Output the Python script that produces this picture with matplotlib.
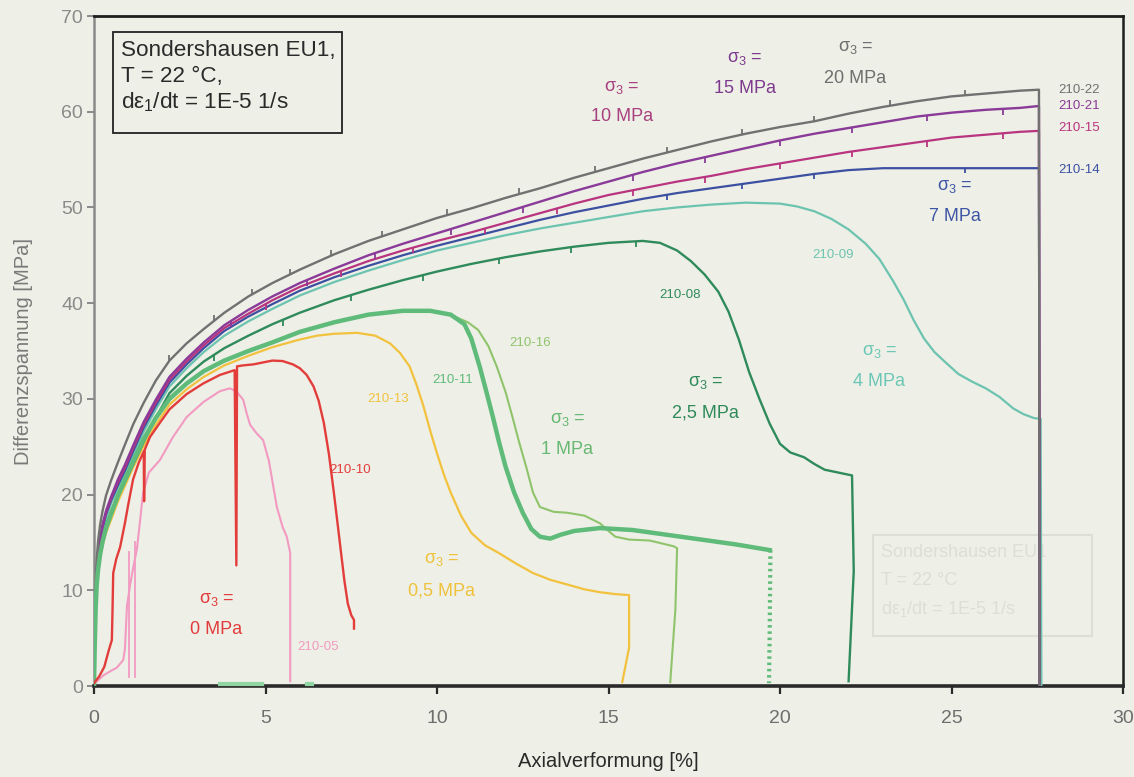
import matplotlib
matplotlib.use("Agg")
import numpy as np
import matplotlib.pyplot as plt
from matplotlib.patches import Rectangle

# ---------------------------------------------------------------- data
# axial strain [%] and deviatoric stress [MPa] of each triaxial test
eps_a = [0, 0.02, 0.05, 0.08, 0.12, 0.18, 0.25, 0.35, 0.5, 0.7, 0.9, 1.15, 1.45, 1.8, 2.2, 2.7,
         3.2, 3.8, 4.5, 5.2, 6.0, 7.0, 8.0, 9.0, 10, 11, 12, 13, 14, 15, 16, 17, 18, 19, 20, 21,
         22, 23, 24, 25, 26, 27, 27.55, 27.57]

t22_x = eps_a
t22_y = [0, 5, 10.5, 13.3, 15.2, 16.9, 18.3, 19.9, 21.5, 23.4, 25.2, 27.4, 29.6, 31.9, 34.0, 35.8,
         37.3, 39.0, 40.7, 42.1, 43.5, 45.1, 46.5, 47.7, 48.9, 49.9, 51.0, 52.0, 53.1, 54.1, 55.1,
         56.0, 56.9, 57.7, 58.4, 59.0, 59.8, 60.5, 61.1, 61.6, 61.9, 62.2, 62.3, 0]

t21_x = eps_a
t21_y = [0, 4.8, 9.8, 12.3, 14.0, 15.6, 16.9, 18.3, 19.8, 21.6, 23.1, 25.2, 27.6, 29.9, 32.3, 34.2,
         35.9, 37.7, 39.3, 40.7, 42.1, 43.6, 45.0, 46.2, 47.3, 48.4, 49.5, 50.6, 51.7, 52.7, 53.7,
         54.6, 55.4, 56.2, 57.0, 57.7, 58.3, 58.9, 59.5, 59.9, 60.2, 60.4, 60.6, 0]

t15_x = eps_a
t15_y = [0, 4.7, 9.6, 12.1, 13.8, 15.4, 16.7, 18.1, 19.6, 21.3, 22.8, 24.9, 27.3, 29.6, 32.0, 33.9,
         35.6, 37.4, 38.9, 40.3, 41.7, 43.1, 44.4, 45.5, 46.5, 47.4, 48.4, 49.4, 50.4, 51.3, 52.0,
         52.7, 53.3, 54.0, 54.6, 55.2, 55.8, 56.3, 56.8, 57.3, 57.6, 57.9, 58.0, 0]

t14_x = eps_a
t14_y = [0, 4.6, 9.4, 11.9, 13.6, 15.2, 16.5, 17.9, 19.4, 21.0, 22.5, 24.6, 27.0, 29.3, 31.7, 33.6,
         35.3, 37.1, 38.6, 39.9, 41.3, 42.7, 43.9, 45.0, 46.0, 46.9, 47.8, 48.7, 49.5, 50.2, 50.9,
         51.5, 52.0, 52.5, 53.0, 53.5, 53.9, 54.1, 54.1, 54.1, 54.1, 54.1, 54.1, 0]

t09_x = [0, 0.02, 0.05, 0.08, 0.12, 0.18, 0.25, 0.35, 0.5, 0.7, 0.9, 1.15, 1.45, 1.8, 2.2, 2.7,
         3.2, 3.8, 4.5, 5.2, 6.0, 7.0, 8.0, 9.0, 10, 11, 12, 13, 14, 15, 16, 17, 18, 19, 20, 20.5,
         21, 21.5, 22, 22.5, 22.9, 23.3, 23.6, 23.9, 24.2, 24.5, 24.8, 25.2, 25.6, 26.0, 26.4,
         26.8, 27.1, 27.4, 27.6, 27.62]
t09_y = [0, 4.4, 9.1, 11.6, 13.3, 14.9, 16.2, 17.6, 19.1, 20.7, 22.2, 24.2, 26.6, 28.9, 31.3, 33.2,
         34.9, 36.6, 38.1, 39.4, 40.8, 42.2, 43.4, 44.5, 45.5, 46.3, 47.1, 47.8, 48.4, 49.0, 49.6,
         50.0, 50.3, 50.5, 50.4, 50.1, 49.6, 48.8, 47.7, 46.2, 44.6, 42.3, 40.4, 38.2, 36.3, 34.9,
         33.9, 32.6, 31.8, 31.1, 30.2, 29.0, 28.4, 28.0, 27.9, 0]

t08_x = [0, 0.02, 0.05, 0.08, 0.12, 0.18, 0.25, 0.35, 0.5, 0.7, 0.9, 1.15, 1.45, 1.8, 2.2, 2.7,
         3.2, 3.8, 4.5, 5.2, 6.0, 7.0, 8.0, 9.0, 10, 11, 12, 13, 14, 15, 16, 16.5, 17.0, 17.4,
         17.8, 18.2, 18.5, 18.8, 19.1, 19.4, 19.7, 20.0, 20.3, 20.7, 21.0, 21.3, 21.7, 22.1,
         22.15, 22.0]
t08_y = [0, 4.2, 8.6, 11.0, 12.6, 14.2, 15.5, 16.9, 18.3, 19.9, 21.3, 23.2, 25.5, 28.0, 30.6, 32.4,
         33.9, 35.3, 36.6, 37.8, 39.0, 40.3, 41.4, 42.4, 43.3, 44.1, 44.8, 45.4, 45.9, 46.3, 46.5,
         46.3, 45.5, 44.4, 43.0, 41.2, 39.1, 36.2, 32.8, 30.0, 27.4, 25.3, 24.4, 23.9, 23.2, 22.6,
         22.3, 22.0, 12, 0.5]

t11_x = [0, 0.02, 0.05, 0.08, 0.12, 0.18, 0.25, 0.35, 0.5, 0.7, 0.9, 1.15, 1.45, 1.8, 2.2, 2.7,
         3.2, 3.8, 4.5, 5.2, 6.0, 7.0, 8.0, 9.0, 9.8, 10.4, 10.8, 11.0, 11.25, 11.45, 11.63, 11.8,
         12.0, 12.25, 12.5, 12.75, 13.0, 13.3, 13.6, 14.0, 14.75, 15.7, 16.7, 17.7, 18.7, 19.7]
t11_y = [0, 4.0, 8.3, 10.6, 12.2, 13.8, 15.1, 16.5, 18.0, 19.9, 21.5, 23.5, 25.8, 28.0, 30.0, 31.6,
         32.9, 34.0, 35.0, 35.9, 37.0, 38.0, 38.8, 39.2, 39.2, 38.8, 37.8, 36.3, 33.3, 30.6, 28.1,
         25.6, 22.9, 20.2, 18.1, 16.4, 15.6, 15.4, 15.8, 16.2, 16.5, 16.3, 15.8, 15.3, 14.8, 14.2]
t11_drop_x = [19.72, 19.7, 19.68]
t11_drop_y = [14.2, 6, 0.3]

t16_x = [10.38, 10.9, 11.2, 11.5, 11.75, 12.0, 12.2, 12.4, 12.6, 12.8, 13.0, 13.4, 13.8, 14.3,
         14.75, 15.0, 15.2, 15.6, 16.2, 16.9, 17.0, 16.95, 16.8]
t16_y = [38.8, 38.0, 37.2, 35.5, 33.3, 30.7, 28.1, 25.4, 22.9, 20.2, 18.7, 18.2, 18.1, 17.8,
         17.0, 16.2, 15.6, 15.3, 15.2, 14.6, 14.4, 8, 0.4]

t13_x = [0, 0.02, 0.05, 0.08, 0.12, 0.18, 0.25, 0.35, 0.5, 0.7, 0.9, 1.15, 1.45, 1.8, 2.2, 2.7,
         3.2, 3.8, 4.5, 5.2, 6.0, 6.5, 7.0, 7.67, 8.2, 8.63, 8.92, 9.2, 9.4, 9.6, 9.8, 10.0, 10.2,
         10.4, 10.7, 11.0, 11.4, 11.8, 12.3, 12.8, 13.3, 13.8, 14.3, 14.75, 15.2, 15.6, 15.6, 15.4]
t13_y = [0, 3.8, 8.0, 10.3, 11.9, 13.4, 14.7, 16.0, 17.4, 19.3, 20.9, 22.9, 25.1, 27.3, 29.4, 31.0,
         32.3, 33.5, 34.5, 35.4, 36.2, 36.6, 36.8, 36.9, 36.6, 35.8, 34.8, 33.4, 31.5, 29.3, 26.7,
         24.3, 22.1, 20.2, 17.8, 16.0, 14.7, 13.9, 12.8, 11.8, 11.1, 10.6, 10.1, 9.8, 9.6, 9.5,
         4, 0.4]

t10_x = [0, 0.15, 0.3, 0.42, 0.52, 0.54, 0.56, 0.65, 0.76, 0.9, 1.0, 1.14, 1.3, 1.45, 1.46, 1.48,
         1.63, 1.9, 2.2, 2.7, 3.18, 3.67, 4.1, 4.15, 4.17, 4.35, 4.64, 5.2, 5.5, 5.8, 6.0, 6.2,
         6.4, 6.55, 6.7, 6.85, 7.0, 7.1, 7.2, 7.3, 7.4, 7.5, 7.58, 7.58]
t10_y = [0.3, 1.0, 2.0, 3.6, 4.8, 8, 11.8, 13.3, 14.5, 17.0, 19.0, 21.6, 23.3, 24.5, 19.3, 24.7,
         26.0, 27.4, 28.9, 30.5, 31.6, 32.5, 33.0, 12.6, 33.4, 33.5, 33.6, 34.0, 33.95, 33.6, 33.2,
         32.5, 31.3, 29.8, 27.5, 24.2, 20.0, 17.0, 14.0, 11.0, 8.6, 7.4, 6.9, 6.0]

t05_x = [0, 0.27, 0.5, 0.66, 0.85, 0.9, 0.93, 0.96, 1.05, 1.15, 1.25, 1.35, 1.43, 1.6, 1.92,
         2.3, 2.7, 3.2, 3.67, 3.96, 4.15, 4.35, 4.45, 4.55, 4.74, 4.93, 5.1, 5.33, 5.5, 5.62, 5.72,
         5.72]
t05_y = [0.2, 1.1, 1.6, 1.9, 2.7, 3.8, 6, 8.3, 10.5, 12.5, 14.3, 17.5, 20.2, 22.3, 23.6, 26.0,
         28.1, 29.7, 30.8, 31.1, 30.8, 29.9, 28.5, 27.3, 26.4, 25.7, 23.5, 18.7, 16.6, 15.6, 13.9,
         0.5]
t05_aux_x = [1.03, 1.2]
t05_aux_top = [14.0, 15.0]

# short relaxation marks along the records (strain positions)
marks22_x = [2.2, 3.5, 4.6, 5.7, 6.9, 8.4, 10.3, 12.4, 14.6, 16.7, 18.9, 21.0, 23.2, 25.4]
marks21_x = [4.0, 6.2, 8.2, 10.4, 12.5, 15.7, 17.8, 20.0, 22.1, 24.3, 26.5]
marks15_x = [5.0, 7.2, 9.3, 11.4, 13.5, 15.7, 17.8, 20.0, 22.1, 24.3, 26.5]
marks14_x = [16.7, 18.9, 21.0, 25.4]
marks08_x = [3.5, 5.5, 7.5, 9.6, 11.8, 13.9, 15.8]

axis_rest_x = [3.67, 4.9]
axis_rest2_x = [6.2, 6.35]

x_ticks = [0, 5, 10, 15, 20, 25, 30]
y_ticks = [0, 10, 20, 30, 40, 50, 60, 70]

# ---------------------------------------------------------------- style
plt.rcParams['mathtext.fontset'] = 'custom'
plt.rcParams['mathtext.rm'] = 'Liberation Sans'
plt.rcParams['mathtext.it'] = 'Liberation Sans'
SANS = ['Liberation Sans', 'DejaVu Sans']

PAPER = '#eeefe6'
C22 = '#717171'
C21 = '#8a3a98'
C15 = '#b9347f'
C14 = '#3c50a2'
C09 = '#6cc4b0'
C08 = '#2f8b5b'
C11 = '#5fbb7a'
C16 = '#8fc46c'
C13 = '#f2c23e'
C10 = '#e33d3b'
C05 = '#f29ac2'

fig = plt.figure(figsize=(11.34, 7.77), dpi=100, facecolor=PAPER)
ax = fig.add_axes([0.0829, 0.1171, 0.9074, 0.8623], facecolor=PAPER)

ax.set_xlim(0, 30)
ax.set_ylim(0, 70)

# faint show-through from the reverse side of the sheet
GHOST = '#dddfd5'
ax.add_patch(Rectangle((22.7, 5.2), 6.4, 10.6, fill=False, ec=GHOST, lw=1.5, zorder=0))
for yy, line in [(14.0, 'Sondershausen EU1'), (11.0, 'T = 22 °C'),
                 (8.0, r'd$\varepsilon_1$/dt = 1E-5 1/s')]:
    ax.text(22.95, yy, line, color=GHOST, fontsize=13, family=SANS, va='center', zorder=0)

# curves
LW = 1.6
ax.plot(t05_x, t05_y, color=C05, lw=1.5, zorder=3)
for xa, top in zip(t05_aux_x, t05_aux_top):
    ax.plot([xa, xa], [0.9, top], color=C05, lw=1.3, zorder=3)
ax.plot(t13_x, t13_y, color=C13, lw=LW, zorder=3)
ax.plot(t16_x, t16_y, color=C16, lw=1.5, zorder=3)
ax.plot(t11_x, t11_y, color=C11, lw=3.2, zorder=4, solid_joinstyle='round')
ax.plot(t11_drop_x, t11_drop_y, color=C11, lw=3.0, ls=(0, (0.6, 0.9)), zorder=4)
ax.plot(t10_x, t10_y, color=C10, lw=1.7, zorder=5)
ax.plot(t08_x, t08_y, color=C08, lw=1.7, zorder=3)
ax.plot(t09_x, t09_y, color=C09, lw=LW, zorder=3)
ax.plot(t14_x, t14_y, color=C14, lw=LW, zorder=3)
ax.plot(t15_x, t15_y, color=C15, lw=LW, zorder=3)
ax.plot(t21_x, t21_y, color=C21, lw=1.7, zorder=3)
ax.plot(t22_x, t22_y, color=C22, lw=1.7, zorder=3)


def marks(xs, cx, cy, color, dy):
    base = np.interp(xs, cx[:-1], cy[:-1])
    for x0, y0 in zip(xs, base):
        ax.plot([x0, x0], [y0, y0 + dy], color=color, lw=1.3, zorder=3,
                solid_capstyle='butt')


marks(marks22_x, t22_x, t22_y, C22, 0.6)
marks(marks21_x, t21_x, t21_y, C21, -0.6)
marks(marks15_x, t15_x, t15_y, C15, -0.6)
marks(marks14_x, t14_x, t14_y, C14, -0.5)
marks(marks08_x, t08_x, t08_y, C08, -0.6)

ax.plot(axis_rest_x, [0.25, 0.25], color='#8fd6a2', lw=3, zorder=6, clip_on=False)
ax.plot(axis_rest2_x, [0.25, 0.25], color='#8fd6a2', lw=3, zorder=6, clip_on=False)

# specimen numbers
id_kw = dict(fontsize=9.5, family=SANS, va='center')
ax.text(28.1, 62.3, '210-22', color=C22, ha='left', **id_kw)
ax.text(28.1, 60.6, '210-21', color=C21, ha='left', **id_kw)
ax.text(28.1, 58.3, '210-15', color=C15, ha='left', **id_kw)
ax.text(28.1, 53.9, '210-14', color=C14, ha='left', **id_kw)
ax.text(21.55, 45.0, '210-09', color=C09, ha='center', **id_kw)
ax.text(17.08, 40.9, '210-08', color=C08, ha='center', **id_kw)
ax.text(12.71, 35.8, '210-16', color=C16, ha='center', **id_kw)
ax.text(10.47, 32.0, '210-11', color=C11, ha='center', **id_kw)
ax.text(8.57, 30.0, '210-13', color=C13, ha='center', **id_kw)
ax.text(7.46, 22.6, '210-10', color=C10, ha='center', **id_kw)
ax.text(6.53, 4.1, '210-05', color=C05, ha='center', **id_kw)

# confining pressure labels
sig_kw = dict(fontsize=13, family=SANS, ha='center', va='center')


def sigma_label(x, y_top, y_bot, value, color):
    ax.text(x, y_top, r'$\sigma_3$ =', color=color, **sig_kw)
    ax.text(x, y_bot, value, color=color, **sig_kw)


sigma_label(15.39, 62.5, 59.5, '10 MPa', '#a8407f')
sigma_label(18.98, 65.6, 62.4, '15 MPa', '#7d3a8f')
sigma_label(22.2, 66.7, 63.5, '20 MPa', '#6e6e6e')
sigma_label(25.1, 52.2, 49.1, '7 MPa', '#3f55a5')
sigma_label(22.9, 34.9, 31.8, '4 MPa', '#6cc7b6')
sigma_label(17.84, 31.7, 28.5, '2,5 MPa', '#2f8a5a')
sigma_label(13.8, 27.8, 24.7, '1 MPa', '#66b872')
sigma_label(10.12, 13.2, 9.9, '0,5 MPa', '#f0c23c')
sigma_label(3.57, 9.0, 5.9, '0 MPa', '#e23b3b')

# test conditions box
ax.add_patch(Rectangle((0.0185, 0.825), 0.2225, 0.151, transform=ax.transAxes,
                       fill=True, fc=PAPER, ec='#222222', lw=1.3, zorder=6))
box_kw = dict(transform=ax.transAxes, fontsize=16.2, family=SANS, color='#2a2a2a',
              va='center', ha='left', zorder=7)
ax.text(0.026, 0.949, 'Sondershausen EU1,', **box_kw)
ax.text(0.026, 0.910, 'T = 22 °C,', **box_kw)
ax.text(0.026, 0.871, r'd$\varepsilon_1$/dt = 1E-5 1/s', **box_kw)

# axes frame
ax.spines['left'].set_color('#8a8a8a')
ax.spines['left'].set_linewidth(1.8)
ax.spines['bottom'].set_color('#2a2a2a')
ax.spines['bottom'].set_linewidth(2.6)
ax.spines['top'].set_color('#1e1e1e')
ax.spines['top'].set_linewidth(2.0)
ax.spines['right'].set_color('#1e1e1e')
ax.spines['right'].set_linewidth(1.8)

ax.set_xticks(x_ticks)
ax.set_yticks(y_ticks)
ax.tick_params(axis='x', direction='out', length=6, width=1.6, color='#2a2a2a',
               pad=11, labelsize=14, labelcolor='#6e6e6e')
ax.tick_params(axis='y', direction='out', length=5, width=1.4, color='#8a8a8a',
               pad=3, labelsize=14, labelcolor='#8a8a8a')
for lab in ax.get_xticklabels() + ax.get_yticklabels():
    lab.set_family(SANS)

ax.set_xlabel('Axialverformung [%]', fontsize=14.5, family=SANS, color='#2a2a2a', labelpad=18)
ax.set_ylabel('Differenzspannung [MPa]', fontsize=14.5, family=SANS, color='#7a7a7a',
              labelpad=20)

fig.savefig('out.png', dpi=100, facecolor=PAPER)
